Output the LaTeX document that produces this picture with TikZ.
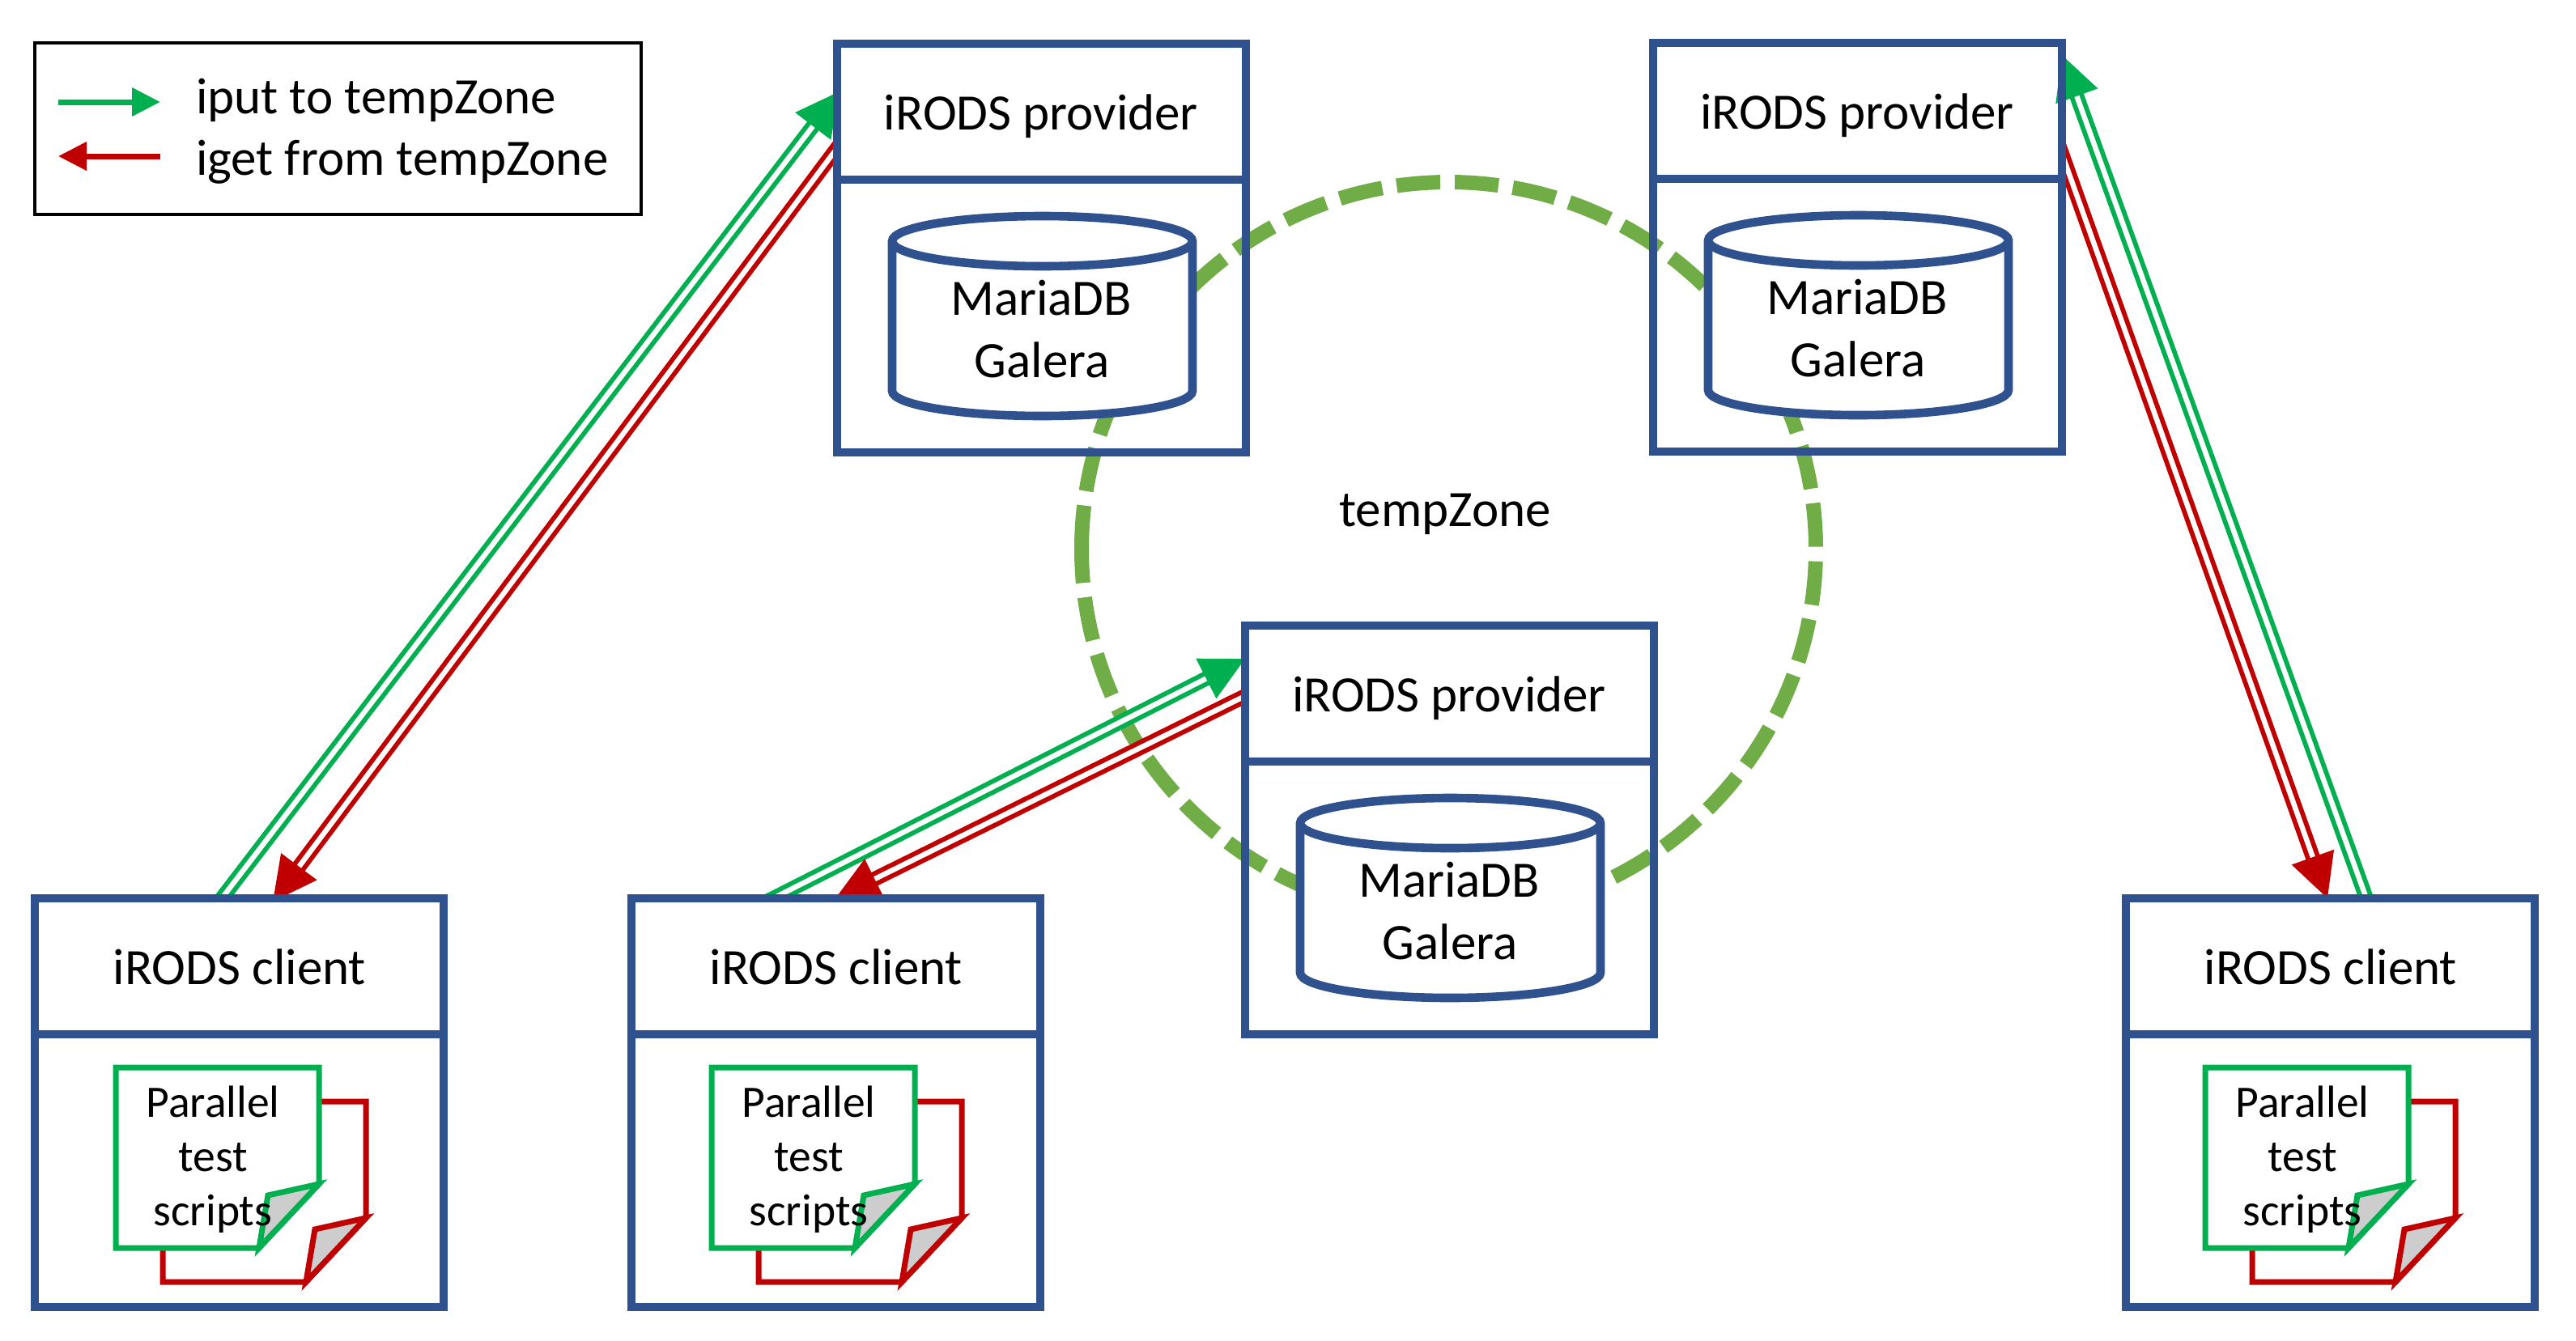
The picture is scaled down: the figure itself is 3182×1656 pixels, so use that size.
\documentclass[tikz,border=0pt]{standalone}
\usepackage{fontspec}
\setmainfont{Carlito}
\usetikzlibrary{calc,arrows.meta}
\definecolor{boxblue}{HTML}{2F528F}
\definecolor{okgreen}{HTML}{00B050}
\definecolor{badred}{HTML}{C00000}
\definecolor{ringgreen}{HTML}{70AD47}
\definecolor{foldgrey}{HTML}{CDCDCD}
\pgfdeclarelayer{ringlayer}
\pgfdeclarelayer{arrowlayer}
\pgfsetlayers{ringlayer,arrowlayer,main}
\tikzset{
  x=0.5pt,y=-0.5pt,
  boxline/.style={draw=boxblue,line width=5.3pt},
  hostbox/.style={boxline,rectangle,inner sep=0pt,outer sep=0pt,minimum width=252.5pt,minimum height=252.5pt},
  clientbox/.style={hostbox,fill=white},
  legendbox/.style={draw=black,line width=2.2pt,rectangle,inner sep=0pt,outer sep=0pt,minimum width=374.5pt,minimum height=106pt},
  ring/.style={draw=ringgreen,line width=9pt,dash pattern=on 27pt off 9pt},
  dbl/.style={draw=#1,line width=2.9pt,double=white,double distance=3.2pt,-{Triangle[length=27pt,width=27pt,fill=#1]}},
  legarrow/.style={draw=#1,line width=3.5pt,-{Triangle[length=17.5pt,width=17pt,fill=#1]}},
  main text/.style={font=\fontsize{31.5}{38.5}\selectfont,align=center,inner sep=0pt,outer sep=0pt},
  legend text/.style={font=\fontsize{31.5}{38}\selectfont,inner sep=0pt,outer sep=0pt,anchor=base west},
  sheet text/.style={font=\fontsize{27.8}{33.5}\selectfont,align=center,inner sep=0pt,outer sep=0pt},
  pics/dbcan/.style={code={
    \filldraw[boxline,fill=white] (68,244) arc[start angle=180,end angle=0,x radius=185.5,y radius=-31]
       -- (439,429) arc[start angle=0,end angle=-180,x radius=185.5,y radius=-31] -- cycle;
    \draw[boxline] (68,244) arc[start angle=180,end angle=360,x radius=185.5,y radius=-31];
  }},
  pics/sheet/.style={code={
    \filldraw[draw=#1,fill=white,line width=3.5pt] (0,0) -- (251,0) -- (251,144) -- (177,223) -- (0,223) -- cycle;
    \filldraw[draw=#1,fill=foldgrey,line width=3.5pt] (251,144) -- (188,158) -- (177,223) -- cycle;
  }},
}
\begin{document}
\begin{tikzpicture}
\useasboundingbox (0,0) rectangle (3182,1656);
\coordinate (pagetl) at (0,0);
\coordinate (pagebr) at (3182,1656);
\begin{pgfonlayer}{ringlayer}
\fill[white] (pagetl) rectangle (pagebr);
\end{pgfonlayer}

% legend
\node[legendbox] (legend) at (417.5,159) {};
\coordinate (lga) at ($(legend.north west)+(29,73)$);
\coordinate (lgb) at ($(legend.north west)+(155,73)$);
\coordinate (lra) at ($(legend.north west)+(155,140)$);
\coordinate (lrb) at ($(legend.north west)+(29,140)$);
\draw[legarrow=okgreen] (lga) -- (lgb);
\draw[legarrow=badred] (lra) -- (lrb);
\node[legend text] (lt1) at ($(legend.north west)+(199,87)$) {iput to tempZone};
\node[legend text] (lt2) at ($(legend.north west)+(199,163)$) {iget from tempZone};

% ring (centre 1789.5,678.5, radius 453.5): starts at its left point, runs clockwise
\begin{pgfonlayer}{ringlayer}
\draw[ring] (1336,678.5) arc[start angle=180,end angle=540,radius=453.5];
\end{pgfonlayer}
\node[main text,anchor=base] (zone) at (1785,650) {tempZone};

% hosts
\node[hostbox] (p1) at (1286.5,306.5) {};
\node[hostbox] (p2) at (2294.5,305.5) {};
\node[hostbox] (p3) at (1790.5,1025.5) {};
\node[clientbox] (c1) at (295.5,1362.5) {};
\node[clientbox] (c2) at (1032.5,1362.5) {};
\node[clientbox] (c3) at (2878.5,1362.5) {};

\foreach \n in {p1,p2,p3,c1,c2,c3}{
  \draw[boxline] ($(\n.north west)+(0,168)$) -- ($(\n.north east)+(0,168)$);
}

% providers
\foreach \n/\m in {p1/a,p2/b,p3/c}{
  \pic at (\n.north west) {dbcan};
  \node[main text,anchor=base] (head\m) at ($(\n.north west)+(252,106)$) {iRODS provider};
  \node[main text,anchor=base] (dba\m) at ($(\n.north west)+(252,335)$) {MariaDB};
  \node[main text,anchor=base] (dbb\m) at ($(\n.north west)+(253,412)$) {Galera};
}

% clients
\foreach \n/\m/\d in {c1/a/0,c2/b/-1,c3/c/-2}{
  \pic at ($(\n.north west)+(158+\d,251)$) {sheet=badred};
  \pic at ($(\n.north west)+(100+\d,209)$) {sheet=okgreen};
  \node[main text,anchor=base] (chead\m) at ($(\n.north west)+(253,106)$) {iRODS client};
  \node[sheet text,anchor=base] (sa\m) at ($(\n.north west)+(220+\d,270)$) {Parallel};
  \node[sheet text,anchor=base] (sb\m) at ($(\n.north west)+(220+\d,337)$) {test};
  \node[sheet text,anchor=base] (sc\m) at ($(\n.north west)+(220+\d,404)$) {scripts};
}

% connector ends
\coordinate (g1a) at ($(c1.north west)+(231,0)$);
\coordinate (g1b) at ($(p1.north west)+(3,59)$);
\coordinate (r1a) at ($(p1.north west)+(0,129)$);
\coordinate (r1b) at ($(c1.north west)+(294,4)$);
\coordinate (g2a) at ($(c2.north west)+(175,0)$);
\coordinate (g2b) at ($(p3.north west)+(0,41)$);
\coordinate (r2a) at ($(p3.north west)+(0,87)$);
\coordinate (r2b) at ($(c2.north west)+(252,0)$);
\coordinate (g3a) at ($(c3.north west)+(297,0)$);
\coordinate (g3b) at ($(p2.north east)+(0,15)$);
\coordinate (r3a) at ($(p2.north east)+(0,137)$);
\coordinate (r3b) at ($(c3.north west)+(249,0)$);

% connectors
\begin{pgfonlayer}{arrowlayer}
\draw[dbl=okgreen] ($(g1a)!-6pt!(g1b)$) -- (g1b);
\draw[dbl=okgreen] ($(g2a)!-6pt!(g2b)$) -- (g2b);
\draw[dbl=okgreen] ($(g3a)!-6pt!(g3b)$) -- (g3b);
\begin{scope}
\clip (pagetl) rectangle (p1.west |- pagebr);
\draw[dbl=badred] ($(r1a)!-6pt!(r1b)$) -- (r1b);
\end{scope}
\begin{scope}
\clip (pagetl) rectangle (p3.west |- pagebr);
\draw[dbl=badred] ($(r2a)!-6pt!(r2b)$) -- (r2b);
\end{scope}
\begin{scope}
\clip (p2.east |- pagetl) rectangle (pagebr);
\draw[dbl=badred] ($(r3a)!-6pt!(r3b)$) -- (r3b);
\end{scope}
\end{pgfonlayer}
\end{tikzpicture}
\end{document}
